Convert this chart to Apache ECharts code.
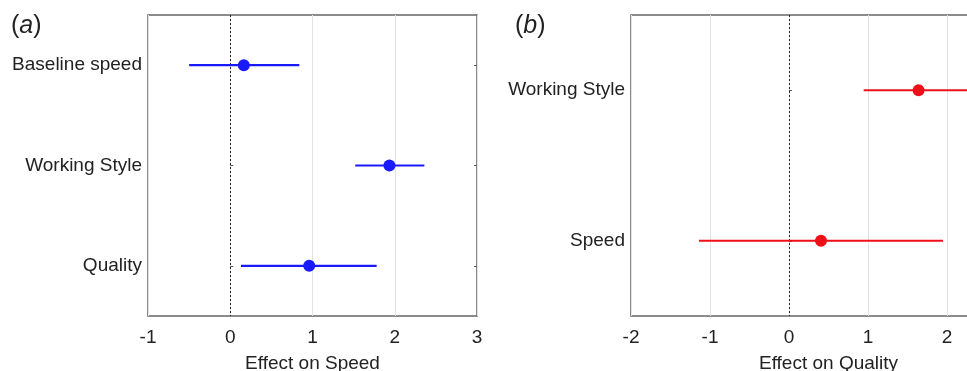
<!DOCTYPE html>
<html>
<head>
<meta charset="utf-8">
<script src="https://cdn.jsdelivr.net/npm/echarts@6/dist/echarts.min.js"></script>
<style>
html,body{margin:0;padding:0;background:#fff;}
#chart{width:967px;height:371px;}
</style>
</head>
<body>
<div id="chart"></div>
<script>
// Panel (a): Effect on Speed
const catA = ['Baseline speed', 'Working Style', 'Quality'];
const estA = [0.165, 1.935, 0.96];
const loA = [-0.50, 1.52, 0.13];
const hiA = [0.84, 2.36, 1.78];
const ticksA = [-1, 0, 1, 2, 3];

// Panel (b): Effect on Quality
const catB = ['Working Style', 'Speed'];
const estB = [1.64, 0.405];
const loB = [0.945, -1.14];
const hiB = [2.34, 1.95];
const ticksB = [-2, -1, 0, 1, 2, 3];

const FONT = '"Liberation Sans", Arial, Helvetica, sans-serif';
const TXT = '#222';
const BLUE = '#1a1aff';
const RED = '#ee1018';

const chart = echarts.init(document.getElementById('chart'), null, {renderer: 'canvas'});

function xAxisCfg(gridIndex, ticks, name) {
  return {
    type: 'value', gridIndex,
    min: ticks[0], max: ticks[ticks.length - 1], interval: 1,
    axisLine: {show: false}, axisTick: {show: false},
    axisLabel: {fontSize: 19, color: TXT, fontFamily: FONT, margin: 12},
    splitLine: {show: true, lineStyle: {color: '#e3e3e3', width: 1}},
    name, nameLocation: 'middle', nameGap: 38,
    nameTextStyle: {fontSize: 19, color: TXT, fontFamily: FONT}
  };
}
function yAxisCfg(gridIndex, cats, pos, showLabel) {
  return {
    type: 'category', gridIndex, data: cats, inverse: true, position: pos,
    axisLine: {show: false},
    axisTick: {show: true, inside: true, length: 3, alignWithLabel: true, lineStyle: {color: '#555'}},
    axisLabel: {show: showLabel, fontSize: 19, color: TXT, fontFamily: FONT, margin: 6},
    splitLine: {show: false}
  };
}
function errSeries(xi, yi, cats, lo, hi, color) {
  return {
    type: 'custom', xAxisIndex: xi, yAxisIndex: yi, silent: true,
    data: cats.map((c, i) => [i, lo[i], hi[i]]),
    encode: {x: [1, 2], y: 0},
    renderItem: function (params, api) {
      const y = api.value(0);
      const p1 = api.coord([api.value(1), y]);
      const p2 = api.coord([api.value(2), y]);
      return {type: 'line', shape: {x1: p1[0], y1: p1[1], x2: p2[0], y2: p2[1]},
              style: {stroke: color, lineWidth: 2.2}};
    },
    z: 3
  };
}
function ptSeries(xi, yi, cats, est, color) {
  return {
    type: 'scatter', xAxisIndex: xi, yAxisIndex: yi, silent: true,
    data: cats.map((c, i) => [est[i], c]),
    symbol: 'circle', symbolSize: 12,
    itemStyle: {color: color, opacity: 1},
    z: 4,
    markLine: {
      silent: true, symbol: 'none', label: {show: false},
      lineStyle: {type: [2, 2], color: '#222', width: 1},
      data: [{xAxis: 0}], z: 2
    }
  };
}

const titleRich = {
  p: {fontSize: 25, fontFamily: FONT, fill: TXT},
  i: {fontSize: 25, fontFamily: FONT, fontStyle: 'italic', fill: TXT}
};

chart.setOption({
  animation: false,
  backgroundColor: '#fff',
  textStyle: {fontFamily: FONT},
  grid: [
    {left: 148, top: 15, width: 329, height: 301, show: true, borderColor: '#666', borderWidth: 1.5,
     backgroundColor: 'transparent', outerBoundsMode: 'none', containLabel: false},
    {left: 631, top: 15, width: 395, height: 301, show: true, borderColor: '#666', borderWidth: 1.5,
     backgroundColor: 'transparent', outerBoundsMode: 'none', containLabel: false}
  ],
  xAxis: [
    xAxisCfg(0, ticksA, 'Effect on Speed'),
    xAxisCfg(1, ticksB, 'Effect on Quality')
  ],
  yAxis: [
    yAxisCfg(0, catA, 'left', true),
    yAxisCfg(0, catA, 'right', false),
    yAxisCfg(1, catB, 'left', true),
    yAxisCfg(1, catB, 'right', false)
  ],
  graphic: [
    {type: 'text', left: 11, top: 14, style: {text: '{p|(}{i|a}{p|)}', rich: titleRich}},
    {type: 'text', left: 515, top: 14, style: {text: '{p|(}{i|b}{p|)}', rich: titleRich}}
  ],
  series: [
    errSeries(0, 0, catA, loA, hiA, BLUE),
    ptSeries(0, 0, catA, estA, BLUE),
    errSeries(1, 2, catB, loB, hiB, RED),
    ptSeries(1, 2, catB, estB, RED)
  ]
});
</script>
</body>
</html>
